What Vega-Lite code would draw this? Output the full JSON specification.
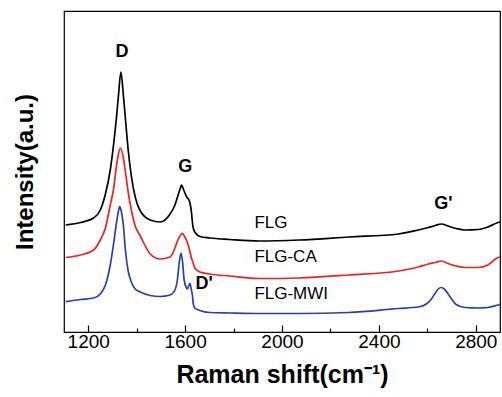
{
  "$schema": "https://vega.github.io/schema/vega-lite/v6.json",
  "width": 436,
  "height": 321,
  "autosize": {"type": "none"},
  "padding": {"left": 64, "top": 11, "right": 2, "bottom": 65},
  "background": "white",
  "config": {"view": {"stroke": "black", "strokeWidth": 1.2}, "font": "Liberation Sans"},
  "datasets": {
    "spectra": [
      {"sample":"FLG","shift":1107,"intensity":107},{"sample":"FLG","shift":1168,"intensity":109.5},{"sample":"FLG","shift":1222,"intensity":114},{"sample":"FLG","shift":1250,"intensity":122},{"sample":"FLG","shift":1271,"intensity":138},{"sample":"FLG","shift":1291,"intensity":162},{"sample":"FLG","shift":1304,"intensity":186},{"sample":"FLG","shift":1316,"intensity":213},{"sample":"FLG","shift":1324,"intensity":234},{"sample":"FLG","shift":1335,"intensity":260},{"sample":"FLG","shift":1345,"intensity":237},{"sample":"FLG","shift":1353,"intensity":215},{"sample":"FLG","shift":1365,"intensity":182},{"sample":"FLG","shift":1378,"intensity":156},{"sample":"FLG","shift":1394,"intensity":135},{"sample":"FLG","shift":1415,"intensity":121},{"sample":"FLG","shift":1456,"intensity":112},{"sample":"FLG","shift":1497,"intensity":110},{"sample":"FLG","shift":1538,"intensity":118},{"sample":"FLG","shift":1558,"intensity":127},{"sample":"FLG","shift":1570,"intensity":136},{"sample":"FLG","shift":1579,"intensity":143},{"sample":"FLG","shift":1585,"intensity":147},{"sample":"FLG","shift":1591,"intensity":144},{"sample":"FLG","shift":1599,"intensity":139},{"sample":"FLG","shift":1607,"intensity":135},{"sample":"FLG","shift":1616,"intensity":132},{"sample":"FLG","shift":1620,"intensity":129},{"sample":"FLG","shift":1626,"intensity":120},{"sample":"FLG","shift":1632,"intensity":106},{"sample":"FLG","shift":1640,"intensity":100},{"sample":"FLG","shift":1661,"intensity":95.5},{"sample":"FLG","shift":1702,"intensity":94},{"sample":"FLG","shift":1784,"intensity":92.5},{"sample":"FLG","shift":1907,"intensity":91},{"sample":"FLG","shift":2071,"intensity":92},{"sample":"FLG","shift":2276,"intensity":95},{"sample":"FLG","shift":2481,"intensity":98},{"sample":"FLG","shift":2563,"intensity":102},{"sample":"FLG","shift":2604,"intensity":104.5},{"sample":"FLG","shift":2633,"intensity":106.5},{"sample":"FLG","shift":2658,"intensity":108},{"sample":"FLG","shift":2686,"intensity":106},{"sample":"FLG","shift":2719,"intensity":103.5},{"sample":"FLG","shift":2756,"intensity":102},{"sample":"FLG","shift":2810,"intensity":102.5},{"sample":"FLG","shift":2850,"intensity":105},{"sample":"FLG","shift":2892,"intensity":109.5},{"sample":"FLG","shift":2900,"intensity":110},
      {"sample":"FLG-CA","shift":1107,"intensity":74.5},{"sample":"FLG-CA","shift":1168,"intensity":77},{"sample":"FLG-CA","shift":1222,"intensity":82},{"sample":"FLG-CA","shift":1250,"intensity":92},{"sample":"FLG-CA","shift":1271,"intensity":104},{"sample":"FLG-CA","shift":1291,"intensity":127},{"sample":"FLG-CA","shift":1304,"intensity":142},{"sample":"FLG-CA","shift":1316,"intensity":165},{"sample":"FLG-CA","shift":1324,"intensity":177},{"sample":"FLG-CA","shift":1333,"intensity":184},{"sample":"FLG-CA","shift":1345,"intensity":174},{"sample":"FLG-CA","shift":1353,"intensity":161},{"sample":"FLG-CA","shift":1365,"intensity":140},{"sample":"FLG-CA","shift":1378,"intensity":122},{"sample":"FLG-CA","shift":1394,"intensity":106},{"sample":"FLG-CA","shift":1415,"intensity":96},{"sample":"FLG-CA","shift":1456,"intensity":78},{"sample":"FLG-CA","shift":1497,"intensity":73},{"sample":"FLG-CA","shift":1538,"intensity":75},{"sample":"FLG-CA","shift":1558,"intensity":84},{"sample":"FLG-CA","shift":1570,"intensity":92},{"sample":"FLG-CA","shift":1579,"intensity":96},{"sample":"FLG-CA","shift":1589,"intensity":98.7},{"sample":"FLG-CA","shift":1599,"intensity":95},{"sample":"FLG-CA","shift":1607,"intensity":91},{"sample":"FLG-CA","shift":1616,"intensity":84},{"sample":"FLG-CA","shift":1620,"intensity":80},{"sample":"FLG-CA","shift":1626,"intensity":74},{"sample":"FLG-CA","shift":1632,"intensity":70},{"sample":"FLG-CA","shift":1640,"intensity":64},{"sample":"FLG-CA","shift":1661,"intensity":60},{"sample":"FLG-CA","shift":1702,"intensity":58},{"sample":"FLG-CA","shift":1784,"intensity":56},{"sample":"FLG-CA","shift":1907,"intensity":53.5},{"sample":"FLG-CA","shift":2071,"intensity":54},{"sample":"FLG-CA","shift":2276,"intensity":57},{"sample":"FLG-CA","shift":2481,"intensity":61},{"sample":"FLG-CA","shift":2563,"intensity":65},{"sample":"FLG-CA","shift":2604,"intensity":68},{"sample":"FLG-CA","shift":2633,"intensity":69.5},{"sample":"FLG-CA","shift":2658,"intensity":71},{"sample":"FLG-CA","shift":2686,"intensity":68.5},{"sample":"FLG-CA","shift":2719,"intensity":66},{"sample":"FLG-CA","shift":2756,"intensity":64.5},{"sample":"FLG-CA","shift":2810,"intensity":64.5},{"sample":"FLG-CA","shift":2850,"intensity":67},{"sample":"FLG-CA","shift":2892,"intensity":74.5},{"sample":"FLG-CA","shift":2900,"intensity":75},
      {"sample":"FLG-MWI","shift":1107,"intensity":30.3},{"sample":"FLG-MWI","shift":1168,"intensity":32.5},{"sample":"FLG-MWI","shift":1222,"intensity":34},{"sample":"FLG-MWI","shift":1250,"intensity":38},{"sample":"FLG-MWI","shift":1271,"intensity":47},{"sample":"FLG-MWI","shift":1291,"intensity":67},{"sample":"FLG-MWI","shift":1304,"intensity":87},{"sample":"FLG-MWI","shift":1316,"intensity":108},{"sample":"FLG-MWI","shift":1324,"intensity":120},{"sample":"FLG-MWI","shift":1330,"intensity":125.3},{"sample":"FLG-MWI","shift":1337,"intensity":120},{"sample":"FLG-MWI","shift":1345,"intensity":107},{"sample":"FLG-MWI","shift":1353,"intensity":83},{"sample":"FLG-MWI","shift":1365,"intensity":61},{"sample":"FLG-MWI","shift":1378,"intensity":50},{"sample":"FLG-MWI","shift":1394,"intensity":43},{"sample":"FLG-MWI","shift":1415,"intensity":40},{"sample":"FLG-MWI","shift":1456,"intensity":36.5},{"sample":"FLG-MWI","shift":1497,"intensity":35.5},{"sample":"FLG-MWI","shift":1538,"intensity":37},{"sample":"FLG-MWI","shift":1558,"intensity":42},{"sample":"FLG-MWI","shift":1568,"intensity":52},{"sample":"FLG-MWI","shift":1576,"intensity":70},{"sample":"FLG-MWI","shift":1583,"intensity":79},{"sample":"FLG-MWI","shift":1590,"intensity":69},{"sample":"FLG-MWI","shift":1596,"intensity":52},{"sample":"FLG-MWI","shift":1606,"intensity":44},{"sample":"FLG-MWI","shift":1609,"intensity":43},{"sample":"FLG-MWI","shift":1620,"intensity":48.7},{"sample":"FLG-MWI","shift":1626,"intensity":42},{"sample":"FLG-MWI","shift":1631,"intensity":35},{"sample":"FLG-MWI","shift":1633,"intensity":29},{"sample":"FLG-MWI","shift":1640,"intensity":24},{"sample":"FLG-MWI","shift":1661,"intensity":21.5},{"sample":"FLG-MWI","shift":1702,"intensity":19.5},{"sample":"FLG-MWI","shift":1784,"intensity":19},{"sample":"FLG-MWI","shift":1907,"intensity":18.5},{"sample":"FLG-MWI","shift":2071,"intensity":18.5},{"sample":"FLG-MWI","shift":2276,"intensity":19.5},{"sample":"FLG-MWI","shift":2481,"intensity":23.5},{"sample":"FLG-MWI","shift":2563,"intensity":25},{"sample":"FLG-MWI","shift":2596,"intensity":28},{"sample":"FLG-MWI","shift":2617,"intensity":33},{"sample":"FLG-MWI","shift":2633,"intensity":39},{"sample":"FLG-MWI","shift":2645,"intensity":43},{"sample":"FLG-MWI","shift":2658,"intensity":44.5},{"sample":"FLG-MWI","shift":2670,"intensity":43},{"sample":"FLG-MWI","shift":2686,"intensity":38},{"sample":"FLG-MWI","shift":2703,"intensity":32},{"sample":"FLG-MWI","shift":2719,"intensity":27.5},{"sample":"FLG-MWI","shift":2756,"intensity":24.5},{"sample":"FLG-MWI","shift":2810,"intensity":24},{"sample":"FLG-MWI","shift":2850,"intensity":24.5},{"sample":"FLG-MWI","shift":2892,"intensity":27},{"sample":"FLG-MWI","shift":2900,"intensity":27.5}
    ],
    "peaks": [
      {"label":"D","shift":1339,"intensity":280.5},
      {"label":"G","shift":1601,"intensity":165.5},
      {"label":"D'","shift":1679,"intensity":48.5},
      {"label":"G'","shift":2666,"intensity":128.5}
    ],
    "names": [
      {"label":"FLG","shift":1886,"intensity":109.5},
      {"label":"FLG-CA","shift":1886,"intensity":75.5},
      {"label":"FLG-MWI","shift":1886,"intensity":38}
    ]
  },
  "layer": [
    {
      "data": {"name": "spectra"},
      "mark": {"type": "line", "strokeWidth": 1.7, "clip": true, "interpolate": "monotone"},
      "encoding": {
        "x": {
          "field": "shift", "type": "quantitative",
          "scale": {"domain": [1100, 2900], "nice": false, "zero": false},
          "axis": {
            "values": [1200, 1400, 1600, 1800, 2000, 2200, 2400, 2600, 2800],
            "format": "d",
            "labelExpr": "datum.value % 400 == 0 ? datum.label : ''",
            "tickSize": {"condition": {"test": "datum.value % 400 == 0", "value": -7}, "value": -4},
            "tickColor": "black", "tickWidth": 1.2,
            "domainColor": "black", "domainWidth": 1.2,
            "grid": false,
            "labelFontSize": 19, "labelColor": "black", "labelPadding": 7,
            "title": "Raman shift(cm⁻¹)",
            "titleFontSize": 25, "titleFontWeight": "bold", "titleColor": "black", "titlePadding": 11
          }
        },
        "y": {
          "field": "intensity", "type": "quantitative",
          "scale": {"domain": [0, 321], "nice": false, "zero": false},
          "axis": {
            "domain": false, "ticks": false, "labels": false, "grid": false,
            "title": "Intensity(a.u.)",
            "titleFontSize": 24, "titleFontWeight": "bold", "titleColor": "black", "titlePadding": 27
          }
        },
        "color": {
          "field": "sample", "type": "nominal",
          "scale": {"domain": ["FLG", "FLG-CA", "FLG-MWI"], "range": ["#000000", "#f02020", "#2a3fae"]},
          "legend": null
        }
      }
    },
    {
      "data": {"name": "peaks"},
      "mark": {"type": "text", "fontWeight": "bold", "fontSize": 18, "align": "center", "baseline": "middle", "color": "black"},
      "encoding": {
        "x": {"field": "shift", "type": "quantitative"},
        "y": {"field": "intensity", "type": "quantitative"},
        "text": {"field": "label"}
      }
    },
    {
      "data": {"name": "names"},
      "mark": {"type": "text", "fontSize": 17, "align": "left", "baseline": "middle", "color": "black"},
      "encoding": {
        "x": {"field": "shift", "type": "quantitative"},
        "y": {"field": "intensity", "type": "quantitative"},
        "text": {"field": "label"}
      }
    }
  ]
}
